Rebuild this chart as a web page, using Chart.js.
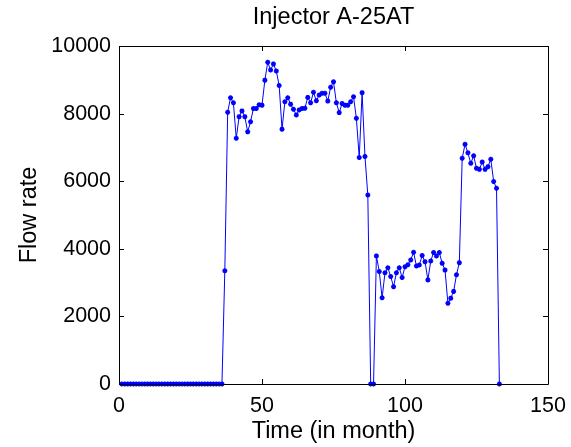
<!DOCTYPE html>
<html>
<head>
<meta charset="utf-8">
<script src="https://cdn.jsdelivr.net/npm/chart.js@4.4.0/dist/chart.umd.min.js"></script>
<style>
  html, body { margin: 0; padding: 0; background: #ffffff; }
  #wrap { width: 571px; height: 447px; position: relative; }
</style>
</head>
<body>
<div id="wrap"><canvas id="c" width="571" height="447"></canvas></div>
<script>
// ---- Data ----
const chartTitle = "Injector A-25AT";
const xAxisTitle = "Time (in month)";
const yAxisTitle = "Flow rate";

const months = [
  1,2,3,4,5,6,7,8,9,10,11,12,13,14,15,16,17,18,19,20,
  21,22,23,24,25,26,27,28,29,30,31,32,33,34,35,36,37,38,39,40,
  41,42,43,44,45,46,47,48,49,50,51,52,53,54,55,56,57,58,59,60,
  61,62,63,64,65,66,67,68,69,70,71,72,73,74,75,76,77,78,79,80,
  81,82,83,84,85,86,87,88,89,90,91,92,93,94,95,96,97,98,99,100,
  101,102,103,104,105,106,107,108,109,110,111,112,113,114,115,116,117,118,119,120,
  121,122,123,124,125,126,127,128,129,130,131,132,133
];

const flowRate = [
  // months 1-36: shut in
  0,0,0,0,0,0,0,0,0,0,0,0,0,0,0,0,0,0,0,0,
  0,0,0,0,0,0,0,0,0,0,0,0,0,0,0,0,
  // month 37
  3350,
  // months 38-87
  8040,8470,8320,7270,7910,8080,7910,7460,7760,8150,
  8150,8260,8250,8990,9520,9290,9470,9260,8830,7540,
  8350,8470,8280,8130,7960,8110,8150,8160,8480,8320,
  8630,8380,8550,8600,8600,8370,8780,8940,8320,8030,
  8300,8250,8250,8350,8500,7860,6700,8620,6730,5590,
  // months 88-89
  0,0,
  // months 90-132
  3790,3330,2550,3290,3440,3180,2880,3290,3440,3150,
  3470,3530,3670,3900,3490,3520,3800,3620,3080,3640,
  3890,3790,3890,3570,3370,2390,2540,2740,3230,3590,
  6680,7090,6840,6530,6750,6380,6350,6570,6350,6430,
  6650,5990,5790,
  // month 133
  0
];

const xTicks = [0, 50, 100, 150];
const yTicks = [0, 2000, 4000, 6000, 8000, 10000];

// ---- Chart ----
const FONT = "'Liberation Sans', Arial, Helvetica, sans-serif";
const points = months.map((m, i) => ({ x: m, y: flowRate[i] }));

// MATLAB-style box with inward tick marks, positioned through the scales
const boxPlugin = {
  id: 'matlabBox',
  afterDatasetsDraw(chart) {
    const { ctx, chartArea: a, scales: { x, y } } = chart;
    const L = 5;
    ctx.save();
    ctx.strokeStyle = '#000000';
    ctx.lineWidth = 1;
    ctx.beginPath();
    ctx.rect(Math.round(a.left) + 0.5, Math.round(a.top) + 0.5,
             Math.round(a.right - a.left), Math.round(a.bottom - a.top));
    xTicks.forEach(v => {
      const px = Math.round(x.getPixelForValue(v)) + 0.5;
      ctx.moveTo(px, a.bottom); ctx.lineTo(px, a.bottom - L);
      ctx.moveTo(px, a.top); ctx.lineTo(px, a.top + L);
    });
    yTicks.forEach(v => {
      const py = Math.round(y.getPixelForValue(v)) + 0.5;
      ctx.moveTo(a.left, py); ctx.lineTo(a.left + L, py);
      ctx.moveTo(a.right, py); ctx.lineTo(a.right - L, py);
    });
    ctx.stroke();
    ctx.restore();
  }
};

new Chart(document.getElementById('c'), {
  type: 'line',
  data: {
    datasets: [{
      data: points,
      borderColor: '#0000ff',
      backgroundColor: '#0000ff',
      borderWidth: 1,
      pointStyle: 'star',
      pointRadius: 2.5,
      pointBorderWidth: 1.5,
      pointBorderColor: '#0000ff',
      pointBackgroundColor: '#0000ff',
      tension: 0,
      fill: false,
      clip: false
    }]
  },
  options: {
    responsive: false,
    animation: false,
    events: [],
    layout: { padding: { left: 0, right: 23, top: 0, bottom: 0 } },
    plugins: {
      legend: { display: false },
      tooltip: { enabled: false },
      title: {
        display: true,
        text: chartTitle,
        fullSize: false,
        color: '#000000',
        font: { family: FONT, size: 23.5, weight: 'normal', lineHeight: 1.2 },
        padding: { top: 3.9, bottom: 13.9 }
      }
    },
    scales: {
      x: {
        type: 'linear',
        min: 0, max: 150,
        afterBuildTicks: s => { s.ticks = xTicks.map(v => ({ value: v })); },
        afterFit: s => { s.height = 63; s.paddingLeft = 0; s.paddingRight = 0; },
        grid: { display: false, drawTicks: false },
        border: { display: false },
        ticks: {
          color: '#000000',
          padding: 9.1,
          maxRotation: 0,
          font: { family: FONT, size: 21.5, lineHeight: 1.2 },
          callback: v => String(v)
        },
        title: {
          display: true,
          text: xAxisTitle,
          color: '#000000',
          font: { family: FONT, size: 23.5, lineHeight: 1.2 },
          padding: { top: 0, bottom: 0.9 }
        }
      },
      y: {
        type: 'linear',
        min: 0, max: 10000,
        afterBuildTicks: s => { s.ticks = yTicks.map(v => ({ value: v })); },
        afterFit: s => { s.width = 119; s.paddingTop = 0; s.paddingBottom = 0; },
        grid: { display: false, drawTicks: false },
        border: { display: false },
        ticks: {
          color: '#000000',
          padding: 8,
          font: { family: FONT, size: 21.5, lineHeight: 1.2 },
          callback: v => String(v)
        },
        title: {
          display: true,
          text: yAxisTitle,
          color: '#000000',
          font: { family: FONT, size: 23.5, lineHeight: 1.2 },
          padding: { top: 15.9, bottom: 0 }
        }
      }
    }
  },
  plugins: [boxPlugin]
});
</script>
</body>
</html>
